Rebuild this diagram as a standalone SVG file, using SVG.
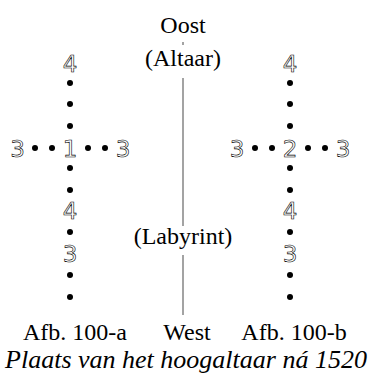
<svg xmlns="http://www.w3.org/2000/svg" width="374" height="376" viewBox="0 0 374 376">
<style>
.t{font-family:'Liberation Serif','Times New Roman',Tinos,'DejaVu Serif',serif;font-size:24px;fill:#000;text-anchor:middle}
.i{font-family:'Liberation Serif','Times New Roman',Tinos,'DejaVu Serif',serif;font-size:26px;font-style:italic;fill:#000;text-anchor:middle}
.n{font-family:'DejaVu Sans',sans-serif;font-size:23px;fill:#fff;stroke:#000;stroke-width:0.6;text-anchor:middle}
.d{fill:#000}
.ln{stroke:#666;stroke-width:1.2;fill:none}
</style>
<defs><circle id="dot" r="3" class="d"/></defs>
<g id="axis">
<line class="ln" x1="183" y1="42" x2="183" y2="45"/>
<line class="ln" x1="183" y1="78" x2="183" y2="226"/>
<line class="ln" x1="183" y1="255" x2="183" y2="315"/>
</g>
<g id="labels">
<text class="t" x="183" y="33" font-family="Liberation Serif, serif">Oost</text>
<text class="t" x="183" y="66" font-family="Liberation Serif, serif">(Altaar)</text>
<text class="t" x="183" y="244" font-family="Liberation Serif, serif">(Labyrint)</text>
<text class="t" x="187" y="340" font-family="Liberation Serif, serif">West</text>
<text class="t" x="75" y="340" font-family="Liberation Serif, serif">Afb. 100-a</text>
<text class="t" x="294" y="340" font-family="Liberation Serif, serif">Afb. 100-b</text>
<text class="i" x="186" y="368" font-family="Liberation Serif, serif">Plaats van het hoogaltaar ná 1520</text>
</g>
<g id="cross-a">
<text class="n" x="70" y="72">4</text>
<use href="#dot" x="70" y="83"/><use href="#dot" x="70" y="104"/><use href="#dot" x="70" y="126"/>
<text class="n" x="17.5" y="157">3</text>
<use href="#dot" x="35" y="148"/><use href="#dot" x="52" y="148"/>
<text class="n" x="70" y="157">1</text>
<use href="#dot" x="88" y="148"/><use href="#dot" x="105" y="148"/>
<text class="n" x="123" y="157">3</text>
<use href="#dot" x="70" y="168"/><use href="#dot" x="70" y="190"/>
<text class="n" x="70" y="219">4</text>
<use href="#dot" x="70" y="232"/>
<text class="n" x="70" y="262">3</text>
<use href="#dot" x="70" y="275"/><use href="#dot" x="70" y="297"/>
</g>
<g id="cross-b">
<text class="n" x="290" y="72">4</text>
<use href="#dot" x="290" y="83"/><use href="#dot" x="290" y="104"/><use href="#dot" x="290" y="126"/>
<text class="n" x="237" y="157">3</text>
<use href="#dot" x="255" y="148"/><use href="#dot" x="272" y="148"/>
<text class="n" x="290" y="157">2</text>
<use href="#dot" x="308" y="148"/><use href="#dot" x="325" y="148"/>
<text class="n" x="343" y="157">3</text>
<use href="#dot" x="290" y="168"/><use href="#dot" x="290" y="190"/>
<text class="n" x="290" y="219">4</text>
<use href="#dot" x="290" y="232"/>
<text class="n" x="290" y="262">3</text>
<use href="#dot" x="290" y="275"/><use href="#dot" x="290" y="297"/>
</g>
</svg>
